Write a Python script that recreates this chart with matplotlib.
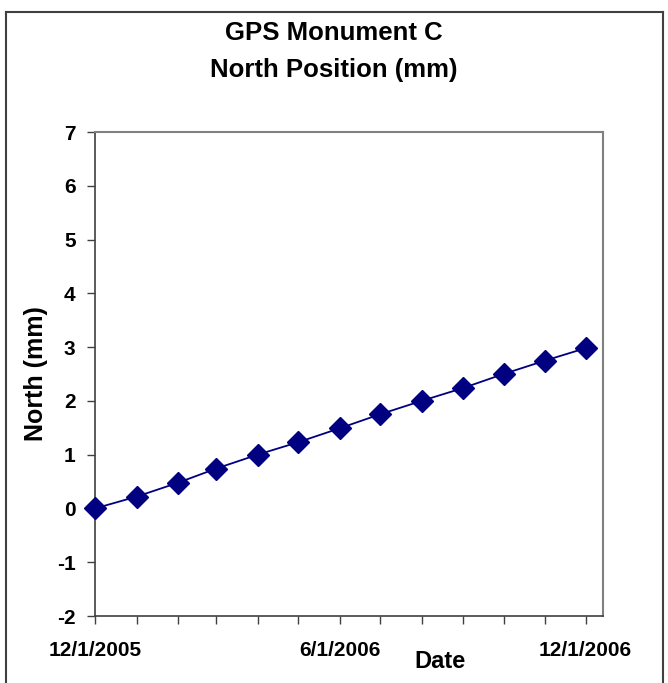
import numpy as np
import matplotlib.pyplot as plt
import matplotlib.dates as mdates
from matplotlib.lines import Line2D
import datetime as dt

plt.rcParams['font.family'] = ['Liberation Sans', 'DejaVu Sans']
plt.rcParams['font.weight'] = 'bold'
plt.rcParams['axes.unicode_minus'] = False

# monthly survey dates and north displacement (mm)
dates = [dt.date(2005, 12, 1)] + [dt.date(2006, m, 1) for m in range(1, 13)]
north = [0.0, 0.22, 0.48, 0.74, 1.0, 1.23, 1.49, 1.75, 2.0, 2.24, 2.5, 2.75, 2.98]
label_dates = [dt.date(2005, 12, 1), dt.date(2006, 6, 1), dt.date(2006, 12, 1)]
y_ticks = list(range(-2, 8))

fig = plt.figure(figsize=(6.68, 6.83), dpi=100)
ax = fig.add_axes([95 / 668, 67 / 683, 508 / 668, 484 / 683])

ax.plot(dates, north, color='#000080', lw=1.3, marker='D', ms=11,
        markerfacecolor='#000080', markeredgecolor='#000080', clip_on=False, zorder=5)

ax.set_ylim(-2, 7)
ax.set_yticks(y_ticks)
ax.set_xlim(dt.date(2005, 12, 1), dt.date(2006, 12, 14))
ax.set_xticks(dates, minor=False)
ax.set_xticklabels([d.strftime('%-m/%-d/%Y') if d in label_dates else '' for d in dates])

ax.tick_params(axis='both', direction='out', length=6, width=1, color='#404040',
               labelsize=15, pad=8)
ax.tick_params(axis='x', pad=12)
for lab in ax.get_xticklabels() + ax.get_yticklabels():
    lab.set_fontweight('bold')

for s in ['left', 'bottom']:
    ax.spines[s].set_color('#404040')
    ax.spines[s].set_linewidth(1.2)
for s in ['top', 'right']:
    ax.spines[s].set_color('#808080')
    ax.spines[s].set_linewidth(1.5)

ax.set_ylabel('North (mm)', fontsize=18, fontweight='bold', labelpad=6)
fig.text(440 / 668, 1 - 662 / 683, 'Date', fontsize=17, fontweight='bold',
         ha='center', va='center')

fig.text(0.5, 1 - 33 / 683, 'GPS Monument C', fontsize=18.5, fontweight='bold',
         ha='center', va='center')
fig.text(0.5, 1 - 70 / 683, 'North Position (mm)', fontsize=18.5, fontweight='bold',
         ha='center', va='center')

# outer chart border
x0, x1, yt = 6 / 668, 663 / 668, 1 - 12 / 683
for xs, ys in [([x0, x0], [0, yt]), ([x0, x1], [yt, yt]), ([x1, x1], [yt, 0])]:
    fig.add_artist(Line2D(xs, ys, color='#404040', lw=1.5))

fig.savefig('out.png', dpi=100)
